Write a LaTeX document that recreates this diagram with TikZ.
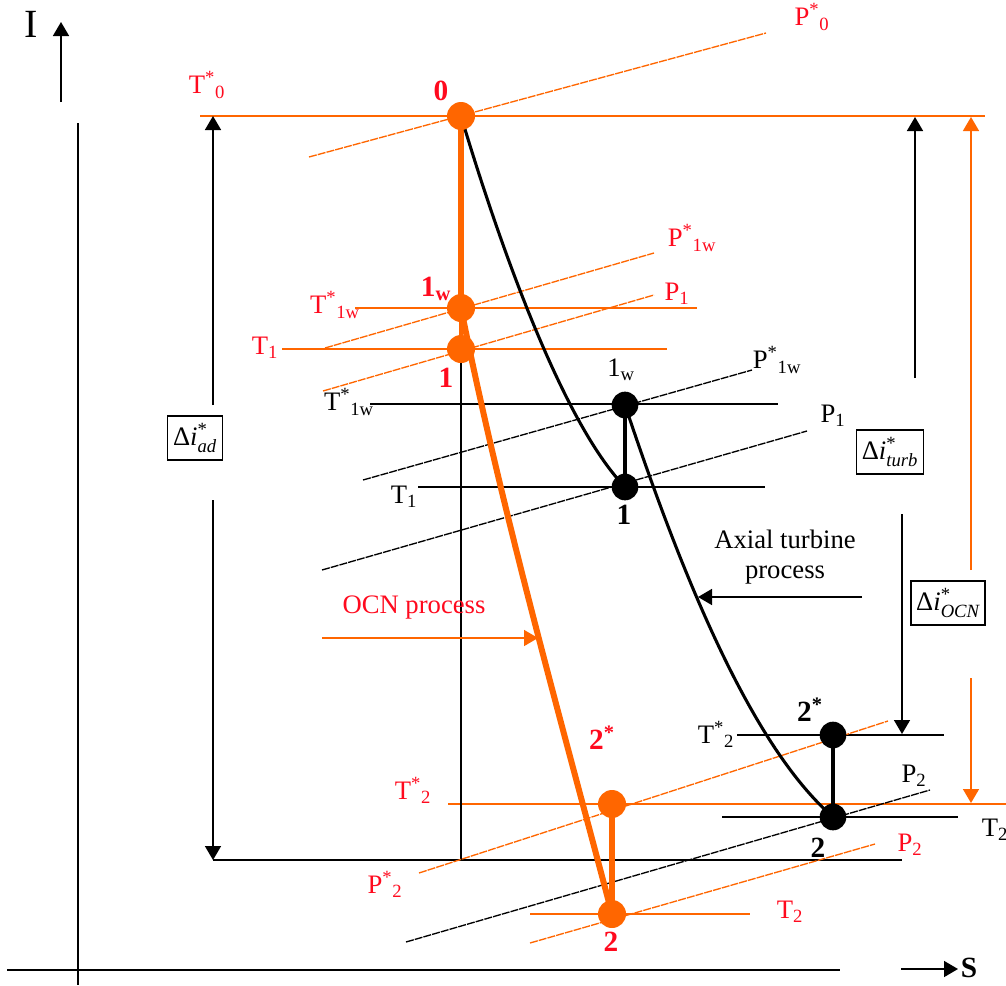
\documentclass[tikz,border=0pt]{standalone}
\usepackage{fontspec}
\setmainfont{Liberation Serif}
\usepackage{amsmath}
\usetikzlibrary{arrows.meta}
\definecolor{org}{RGB}{255,102,0}
\definecolor{lred}{RGB}{255,10,30}
\newcommand{\dI}[1]{Δ$\textit{i}^{\text{*}}_{\text{\itshape #1}}$}
\pgfdeclarelayer{bg}
\pgfsetlayers{bg,main}
\begin{document}
\begin{tikzpicture}[x=0.75pt,y=-0.75pt,
  every node/.style={font=\fontsize{20}{23}\selectfont, inner sep=0pt},
  thinln/.style={line width=1.2pt},
  isob/.style={line width=1pt, dash pattern=on 6pt off 0.8pt},
  tip/.style={-{Triangle[length=10.5pt,width=12pt]}},
  ptO/.style={circle, fill=org, minimum size=21pt},
  ptB/.style={circle, fill=black, minimum size=20pt},
  lab/.style={text=lred},
  big/.style={font=\fontsize{22}{25}\selectfont\bfseries},
  dbox/.style={draw, line width=1pt, inner xsep=4pt, minimum height=33pt, fill=white},
  proc/.style={line width=2.3pt},
  oproc/.style={org, line width=4.5pt},
]
\useasboundingbox (0,0) rectangle (1006,985);

% ---- state points ----
\node[ptO] (o0)  at (461,116) {};
\node[ptO] (o1w) at (461,308) {};
\node[ptO] (o1)  at (461,349) {};
\node[ptO] (o2s) at (612,804) {};
\node[ptO] (o2)  at (612,914) {};
\node[ptB] (b1w) at (625,405) {};
\node[ptB] (b1)  at (625,487) {};
\node[ptB] (b2s) at (833,735) {};
\node[ptB] (b2)  at (833,817) {};

% ---- boxes ----
\node[dbox] (dad)   at (195,438) {\dI{ad}};
\node[dbox] (dturb) at (890,452) {\dI{turb}};
\node[dbox] (docn)  at (948,603) {\dI{OCN}};

% ---- coordinates ----
\coordinate (Ibot) at (61,102);  \coordinate (Itop) at (61,22);
\coordinate (yaxT) at (78,123);  \coordinate (yaxB) at (78,985);
\coordinate (xaxL) at (7,970);   \coordinate (xaxR) at (840,970);
\coordinate (Sl) at (901,969);   \coordinate (Sr) at (958,969);
\coordinate (t0L) at (200,116);  \coordinate (t0R) at (985,116);
\coordinate (ot1wL) at (355,308); \coordinate (ot1wR) at (697,308);
\coordinate (ot1L) at (282,349);  \coordinate (ot1R) at (667,349);
\coordinate (ot2sL) at (448,804); \coordinate (ot2sR) at (1006,804);
\coordinate (ot2L) at (530,914);  \coordinate (ot2R) at (750,914);
\coordinate (bt1wL) at (370,404); \coordinate (bt1wR) at (778,404);
\coordinate (bt1L) at (418,487);  \coordinate (bt1R) at (765,487);
\coordinate (bt2sL) at (737,735); \coordinate (bt2sR) at (944,735);
\coordinate (bt2L) at (722,817);  \coordinate (bt2R) at (958,817);
\coordinate (baseL) at (213,860); \coordinate (baseR) at (902,860);
\coordinate (vB) at (461,860);
\coordinate (p0L) at (309,157);   \coordinate (p0R) at (766,33);
\coordinate (op1wL) at (325,348); \coordinate (op1wR) at (654,253);
\coordinate (op1L) at (323,391);  \coordinate (op1R) at (654,295);
\coordinate (op2sL) at (419,873); \coordinate (op2sR) at (888,721);
\coordinate (op2L) at (530,943);  \coordinate (op2R) at (875,844);
\coordinate (bp1wL) at (363,480); \coordinate (bp1wR) at (752,370);
\coordinate (bp1L) at (322,570);  \coordinate (bp1R) at (807,431);
\coordinate (bp2L) at (406,942);  \coordinate (bp2R) at (930,790);
\coordinate (adTop) at (213,116); \coordinate (adBot) at (213,860);
\coordinate (adA) at (213,405);   \coordinate (adB) at (213,500);
\coordinate (tuA) at (915,378);   \coordinate (tuTop) at (915,117);
\coordinate (tuB) at (902,514);   \coordinate (tuBot) at (902,734);
\coordinate (ocA) at (971,570);   \coordinate (ocTop) at (971,117);
\coordinate (ocB) at (971,678);   \coordinate (ocBot) at (971,803);
\coordinate (ocnS) at (322,638);  \coordinate (ocnE) at (538,638);
\coordinate (axS) at (862,597);   \coordinate (axE) at (698,597);

\begin{pgfonlayer}{bg}
% axes
\draw[thinln, tip] (Ibot) -- (Itop);
\draw[thinln] (yaxT) -- (yaxB);
\draw[thinln] (xaxL) -- (xaxR);
\draw[thinln, tip] (Sl) -- (Sr);
% isotherms (orange)
\draw[thinln, org] (t0L) -- (t0R);
\draw[thinln, org] (ot1wL) -- (ot1wR);
\draw[thinln, org] (ot1L) -- (ot1R);
\draw[thinln, org] (ot2sL) -- (ot2sR);
\draw[thinln, org] (ot2L) -- (ot2R);
% isotherms (black)
\draw[thinln] (bt1wL) -- (bt1wR);
\draw[thinln] (bt1L) -- (bt1R);
\draw[thinln] (bt2sL) -- (bt2sR);
\draw[thinln] (bt2L) -- (bt2R);
\draw[thinln] (baseL) -- (baseR);
\draw[thinln] (o1.center) -- (vB);
% isobars
\draw[isob, org] (p0L) -- (p0R);
\draw[isob, org] (op1wL) -- (op1wR);
\draw[isob, org] (op1L) -- (op1R);
\draw[isob, org] (op2sL) -- (op2sR);
\draw[isob, org] (op2L) -- (op2R);
\draw[isob] (bp1wL) -- (bp1wR);
\draw[isob] (bp1L) -- (bp1R);
\draw[isob] (bp2L) -- (bp2R);
% processes
\draw[oproc] (o0.center) -- (o1w.center);
\draw[org, line width=3pt] (o1w.center) -- (o1.center);
\draw[oproc] (o1w.center) .. controls (501,508) and (559,713) .. (o2.center);
\draw[oproc] (o2s.center) -- (o2.center);
\draw[proc] (o0.center) .. controls (495,230) and (560,420) .. (b1.center);
\draw[proc] (b1w.center) -- (b1.center);
\draw[proc] (b1w.center) .. controls (680,570) and (750,745) .. (b2.center);
\draw[proc] (b2s.center) -- (b2.center);
% dimension arrows
\draw[thinln, tip] (adA) -- (adTop);
\draw[thinln, tip] (adB) -- (adBot);
\draw[thinln, tip] (tuA) -- (tuTop);
\draw[thinln, tip] (tuB) -- (tuBot);
\draw[thinln, org, tip] (ocA) -- (ocTop);
\draw[thinln, org, tip] (ocB) -- (ocBot);
\draw[thinln, org, tip] (ocnS) -- (ocnE);
\draw[thinln, tip] (axS) -- (axE);
\end{pgfonlayer}

% ---- labels ----
\node (Ilab) at (31,24) {\fontsize{30}{34}\selectfont I};
\node[big] (Slab) at (969,968) {S};
\node[lab] (lT0) at (207,85) {T\textsuperscript{*}\textsubscript{0}};
\node[lab] (lP0) at (812,17) {P\textsuperscript{*}\textsubscript{0}};
\node[lab, big] (l0) at (441,91) {0};
\node[lab, big] (l1w) at (436,289) {1\textsubscript{w}};
\node[lab, big] (l1) at (446,378) {1};
\node[lab] (lP1w) at (692,238) {P\textsuperscript{*}\textsubscript{1w}};
\node[lab] (lP1) at (677,294) {P\textsubscript{1}};
\node[lab] (lT1w) at (335,305) {T\textsuperscript{*}\textsubscript{1w}};
\node[lab] (lT1) at (265,348) {T\textsubscript{1}};
\node[lab] (lOCN) at (414,608) {OCN process};
\node[lab, big] (l2s) at (602,738) {2\textsuperscript{*}};
\node[lab] (lT2s) at (413,790) {T\textsuperscript{*}\textsubscript{2}};
\node[lab] (lP2s) at (385,884) {P\textsuperscript{*}\textsubscript{2}};
\node[lab, big] (l2) at (611,942) {2};
\node[lab] (lT2) at (790,912) {T\textsubscript{2}};
\node[lab] (lP2) at (910,845) {P\textsubscript{2}};
\node (kT1w) at (349,402) {T\textsuperscript{*}\textsubscript{1w}};
\node (kT1) at (404,497) {T\textsubscript{1}};
\node (k1w) at (621,370) {1\textsubscript{w}};
\node[big] (k1) at (624,515) {1};
\node (kP1w) at (777,360) {P\textsuperscript{*}\textsubscript{1w}};
\node (kP1) at (833,416) {P\textsubscript{1}};
\node[align=center] (kax) at (785,557) {Axial turbine\\process};
\node (kT2s) at (716,734) {T\textsuperscript{*}\textsubscript{2}};
\node[big] (k2s) at (810,710) {2\textsuperscript{*}};
\node (kP2) at (914,776) {P\textsubscript{2}};
\node[big] (k2) at (818,848) {2};
\node (kT2) at (995,830) {T\textsubscript{2}};
\end{tikzpicture}
\end{document}
